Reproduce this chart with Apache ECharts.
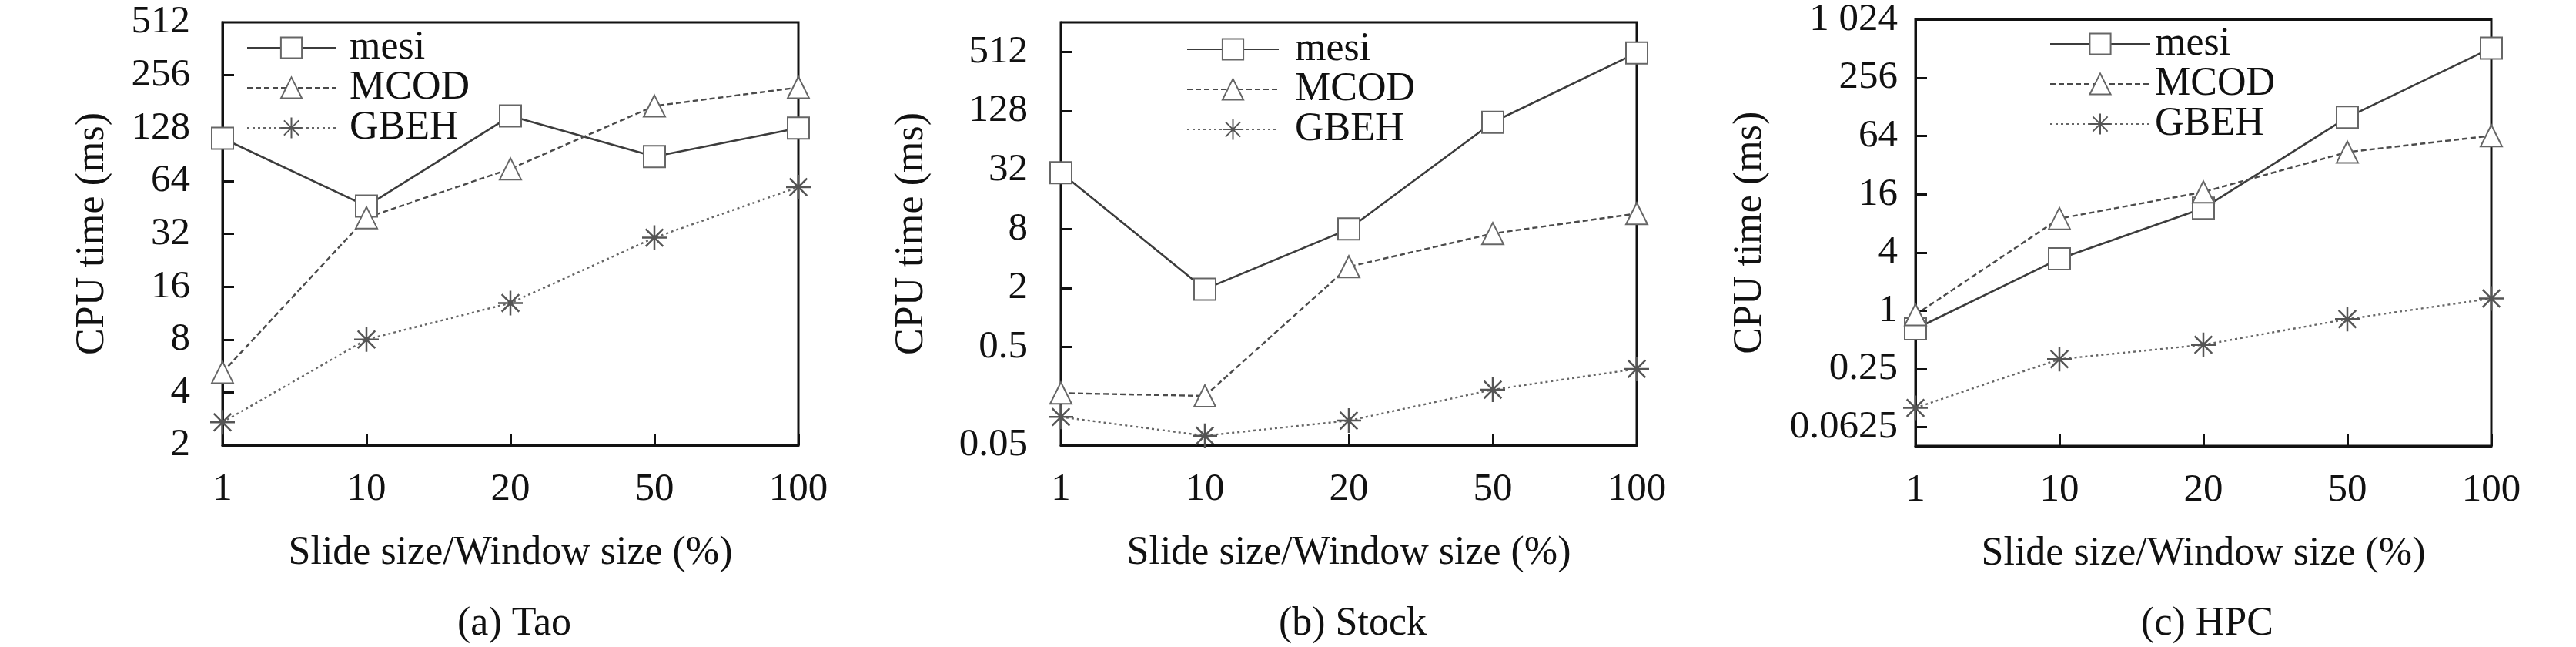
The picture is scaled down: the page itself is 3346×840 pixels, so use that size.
<!DOCTYPE html>
<html>
<head>
<meta charset="utf-8">
<script src="https://cdn.jsdelivr.net/npm/echarts@6/dist/echarts.min.js"></script>
<style>
html,body{margin:0;padding:0;background:#fff;}
#chart{width:3346px;height:840px;}
</style>
</head>
<body>
<div id="chart"></div>
<script>
// ---- data ----
const categories = ['1', '10', '20', '50', '100'];
const seriesNames = ['mesi', 'MCOD', 'GBEH'];

const taoMesi = [112, 46, 150, 88, 128];
const taoMCOD = [5.2, 39.5, 75, 171, 218];
const taoGBEH = [2.7, 8, 12.9, 30.4, 59];

const stockMesi = [30, 1.95, 8, 98, 500];
const stockMCOD = [0.17, 0.159, 3.3, 7.2, 11.5];
const stockGBEH = [0.097, 0.0625, 0.089, 0.184, 0.30];

const hpcMesi = [0.65, 3.45, 11.5, 100, 520];
const hpcMCOD = [0.91, 9.0, 16.9, 43.7, 64.6];
const hpcGBEH = [0.099, 0.316, 0.445, 0.82, 1.34];

const taoTicks = [2, 4, 8, 16, 32, 64, 128, 256, 512];
const stockTicks = [0.05, 0.5, 2, 8, 32, 128, 512];
const hpcTicks = [0.0625, 0.25, 1, 4, 16, 64, 256, 1024];

const captions = ['(a) Tao', '(b) Stock', '(c) HPC'];
const xTitle = 'Slide size/Window size (%)';
const yTitle = 'CPU time (ms)';

// ---- styling ----
const FONT = 'Liberation Serif';
const FS = 51;
const FS_T = 52;
const INK = '#111';
const panels = [
  {left: 289, top: 29, width: 748, height: 549, min: 2, max: 512, base: 2, ticks: taoTicks,
   data: [taoMesi, taoMCOD, taoGBEH], labelMargin: 42, nameGap: 143, legendLeft: 320, legendTop: 36, legendW: 115, legendPad: 13},
  {left: 1378, top: 29, width: 748, height: 549, min: 0.05, max: 1024, base: 2, ticks: stockTicks,
   data: [stockMesi, stockMCOD, stockGBEH], labelMargin: 43, nameGap: 168, legendLeft: 1541, legendTop: 38, legendW: 119, legendPad: 16},
  {left: 2488, top: 24, width: 748, height: 555, min: 0.04, max: 1024, base: 4, ticks: hpcTicks,
   data: [hpcMesi, hpcMCOD, hpcGBEH], labelMargin: 23, nameGap: 189, legendLeft: 2662, legendTop: 31, legendW: 130, legendPad: 1}
];

const asterisk = 'path://M0,10L20,10M10,0L10,20M2.93,2.93L17.07,17.07M17.07,2.93L2.93,17.07';
const seriesStyles = [
  {symbol: 'emptyRect', symbolSize: 28, line: {color: '#3c3c3c', width: 2.6, type: 'solid'}, item: {color: '#666', borderWidth: 2.8}},
  {symbol: 'emptyTriangle', symbolSize: 28, line: {color: '#4a4a4a', width: 2.4, type: [7, 4]}, item: {color: '#666', borderWidth: 2.8}},
  {symbol: asterisk, symbolSize: 32, line: {color: '#666', width: 2.4, type: [3, 4]}, item: {color: '#555', borderColor: '#555', borderWidth: 2.5}}
];

const fmtNum = v => {
  if (v >= 1000) { const s = String(Math.round(v)); return s.slice(0, s.length - 3) + ' ' + s.slice(-3); }
  return String(+v.toPrecision(6));
};

const grid = [], xAxis = [], yAxis = [], series = [], legend = [], title = [];
panels.forEach((p, i) => {
  grid.push({left: p.left, top: p.top, width: p.width, height: p.height, show: true,
    borderColor: INK, borderWidth: 3, backgroundColor: 'transparent'});
  xAxis.push({
    type: 'category', gridIndex: i, data: categories, boundaryGap: false,
    name: xTitle, nameLocation: 'middle', nameGap: 114,
    nameTextStyle: {fontFamily: FONT, fontSize: FS_T, color: INK},
    axisLine: {show: true, lineStyle: {color: INK, width: 3}},
    axisTick: {show: true, inside: true, length: 15, lineStyle: {color: INK, width: 3}},
    axisLabel: {fontFamily: FONT, fontSize: FS, color: INK, margin: 32},
    splitLine: {show: false}
  });
  yAxis.push({
    type: 'log', logBase: p.base, gridIndex: i, min: p.min, max: p.max,
    name: yTitle, nameLocation: 'middle', nameGap: p.nameGap,
    nameTextStyle: {fontFamily: FONT, fontSize: FS_T, color: INK},
    axisLine: {show: true, lineStyle: {color: INK, width: 3}},
    axisTick: {show: true, inside: true, length: 15, lineStyle: {color: INK, width: 3},
      customValues: p.ticks.filter(t => t > p.min && t < p.max)},
    axisLabel: {fontFamily: FONT, fontSize: FS, color: INK, margin: p.labelMargin,
      customValues: p.ticks, formatter: v => fmtNum(v)},
    splitLine: {show: false}, minorTick: {show: false}
  });
  seriesNames.forEach((name, k) => {
    const st = seriesStyles[k];
    series.push({
      type: 'line', name: name, xAxisIndex: i, yAxisIndex: i, data: p.data[k],
      symbol: st.symbol, symbolSize: st.symbolSize, showAllSymbol: true, clip: false,
      lineStyle: st.line, itemStyle: st.item, emphasis: {disabled: true}, animation: false
    });
  });
  legend.push({
    orient: 'vertical', left: p.legendLeft, top: p.legendTop, padding: 0,
    itemWidth: p.legendW, itemHeight: 34, itemGap: 0,
    data: seriesNames,
    textStyle: {fontFamily: FONT, fontSize: FS_T, color: INK, lineHeight: 44, padding: [0, 0, 0, p.legendPad]},
    selectedMode: false
  });
  title.push({
    text: captions[i], left: p.left + p.width / 2, top: 779, textAlign: 'center',
    textStyle: {fontFamily: FONT, fontSize: FS_T, color: INK, fontWeight: 'normal'}
  });
});

const chart = echarts.init(document.getElementById('chart'), null, {renderer: 'canvas'});
chart.setOption({animation: false, backgroundColor: '#fff', grid, xAxis, yAxis, series, legend, title});
</script>
</body>
</html>
